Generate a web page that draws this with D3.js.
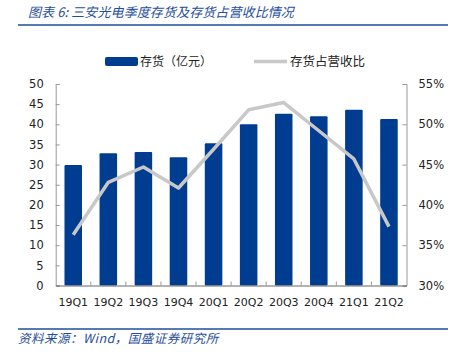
<!DOCTYPE html>
<html>
<head>
<meta charset="utf-8">
<script src="https://cdn.jsdelivr.net/npm/d3@7"></script>
<style>
  body { margin: 0; background: #fff; }
  svg { display: block; }
</style>
</head>
<body>
<div id="chart"></div>
<script>
// 数据
const quarters = ['19Q1', '19Q2', '19Q3', '19Q4', '20Q1', '20Q2', '20Q3', '20Q4', '21Q1', '21Q2']
const inventory = [29.9, 32.8, 33.1, 31.8, 35.3, 40.0, 42.6, 42.0, 43.6, 41.3]
const ratio = [36.3, 42.8, 44.7, 42.1, 46.9, 51.8, 52.7, 49.2, 45.7, 37.3]
const leftTicks = [0, 5, 10, 15, 20, 25, 30, 35, 40, 45, 50]
const rightTicks = [30, 35, 40, 45, 50, 55]

const W = 453, H = 353
const blue = '#003d91'
const grey = '#c8c8c8'
const textBlue = '#1f4e9c'
const latin = '"DejaVu Sans", Verdana, sans-serif'
const cjk = '"Noto Sans CJK SC", sans-serif'

let svg = d3.select('#chart').append('svg').attr('width', W).attr('height', H)

// 标题
svg.append('text').text('图表 6:  三安光电季度存货及存货占营收比情况')
  .attr('x', 28).attr('y', 17)
  .attr('font-family', cjk).attr('font-size', 13).attr('font-style', 'italic')
  .attr('letter-spacing', 0.1)
  .attr('fill', textBlue)
svg.append('line').attr('x1', 18).attr('x2', 448).attr('y1', 25).attr('y2', 25)
  .attr('stroke', textBlue).attr('stroke-width', 1.5)

// 比例尺
let plotL = 55.7, plotR = 406.5, plotT = 84, plotB = 285.5
let x = d3.scaleBand().domain(quarters).range([plotL, plotR]).paddingInner(0.5).paddingOuter(0.25)
let xTicks = d3.scaleBand().domain(quarters).range([plotL, plotR])
let yL = d3.scaleLinear().domain([0, 50]).range([plotB, plotT])
let yR = d3.scaleLinear().domain([30, 55]).range([plotB, plotT])

// 柱子
svg.append('g').selectAll('rect').data(inventory).enter().append('rect')
  .attr('x', (d, i) => x(quarters[i]))
  .attr('width', x.bandwidth())
  .attr('y', d => yL(d))
  .attr('height', d => plotB - yL(d))
  .attr('fill', blue)
  .attr('rx', 1)

// 折线
let line = d3.line()
  .x((d, i) => xTicks(quarters[i]) + xTicks.bandwidth() / 2)
  .y(d => yR(d))
svg.append('path').datum(ratio).attr('d', line)
  .attr('fill', 'none').attr('stroke', grey).attr('stroke-width', 3.5)
  .attr('stroke-linejoin', 'round')

// 左轴
let gL = svg.append('g').attr('transform', 'translate(' + plotL + ',0)')
  .call(d3.axisRight(yL).tickValues(leftTicks).tickSize(4).tickFormat(d3.format('d')))
gL.select('.domain').attr('stroke', '#999')
gL.selectAll('.tick line').attr('stroke', '#999')
gL.selectAll('.tick text').attr('x', -12).attr('text-anchor', 'end')
  .attr('font-family', latin).attr('font-size', 11.5).attr('fill', '#222')

// 右轴
let gR = svg.append('g').attr('transform', 'translate(' + plotR + ',0)')
  .call(d3.axisLeft(yR).tickValues(rightTicks).tickSize(4).tickFormat(d => d + '%'))
gR.select('.domain').attr('stroke', '#999')
gR.selectAll('.tick line').attr('stroke', '#999')
gR.selectAll('.tick text').attr('x', 12).attr('text-anchor', 'start')
  .attr('font-family', latin).attr('font-size', 11.5).attr('fill', '#222')

// 横轴
let gX = svg.append('g').attr('transform', 'translate(0,' + plotB + ')')
  .call(d3.axisBottom(xTicks).tickSize(0))
gX.select('.domain').attr('stroke', '#666')
gX.selectAll('.tick text').attr('y', 13)
  .attr('font-family', latin).attr('font-size', 11).attr('fill', '#222')
// 类别分隔刻度（朝内）
svg.append('g').selectAll('line').data(quarters.slice(1)).enter().append('line')
  .attr('x1', d => xTicks(d)).attr('x2', d => xTicks(d))
  .attr('y1', plotB).attr('y2', plotB - 4)
  .attr('stroke', '#999')

// 图例
svg.append('rect').attr('x', 105).attr('y', 57).attr('width', 33).attr('height', 9)
  .attr('rx', 2).attr('fill', blue)
svg.append('text').text('存货（亿元）').attr('x', 140).attr('y', 66)
  .attr('font-family', cjk).attr('font-size', 12).attr('fill', '#222')
svg.append('line').attr('x1', 254).attr('x2', 287).attr('y1', 61.5).attr('y2', 61.5)
  .attr('stroke', grey).attr('stroke-width', 3.5)
svg.append('text').text('存货占营收比').attr('x', 290).attr('y', 66)
  .attr('font-family', cjk).attr('font-size', 12.5).attr('fill', '#222')

// 资料来源
svg.append('line').attr('x1', 18).attr('x2', 448).attr('y1', 329).attr('y2', 329)
  .attr('stroke', textBlue).attr('stroke-width', 1.5)
svg.append('text').text('资料来源：Wind，国盛证券研究所')
  .attr('x', 18).attr('y', 343)
  .attr('font-family', cjk).attr('font-size', 12.5).attr('font-style', 'italic')
  .attr('letter-spacing', 0.5)
  .attr('fill', textBlue)
</script>
</body>
</html>
